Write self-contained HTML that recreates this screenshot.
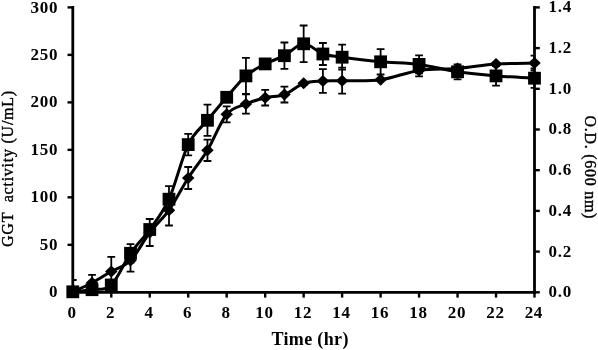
<!DOCTYPE html><html><head><meta charset="utf-8"><style>html,body{margin:0;padding:0;background:#fff;}svg{display:block;filter:grayscale(1) blur(0.35px);}text{font-family:"Liberation Serif",serif;}</style></head><body>
<svg width="598" height="350" viewBox="0 0 598 350">
<g stroke="#000" stroke-width="2.8" fill="none" stroke-linecap="butt">
<line x1="72.8" y1="6.00" x2="72.8" y2="293.70"/>
<line x1="534.5" y1="6.00" x2="534.5" y2="293.70"/>
<line x1="71.40" y1="292.3" x2="535.90" y2="292.3"/>
</g>
<g stroke="#000" stroke-width="2.4">
<line x1="67.50" y1="292.30" x2="72.8" y2="292.30"/>
<line x1="67.50" y1="244.82" x2="72.8" y2="244.82"/>
<line x1="67.50" y1="197.33" x2="72.8" y2="197.33"/>
<line x1="67.50" y1="149.85" x2="72.8" y2="149.85"/>
<line x1="67.50" y1="102.37" x2="72.8" y2="102.37"/>
<line x1="67.50" y1="54.88" x2="72.8" y2="54.88"/>
<line x1="67.50" y1="7.40" x2="72.8" y2="7.40"/>
<line x1="534.5" y1="292.30" x2="539.80" y2="292.30"/>
<line x1="534.5" y1="251.60" x2="539.80" y2="251.60"/>
<line x1="534.5" y1="210.90" x2="539.80" y2="210.90"/>
<line x1="534.5" y1="170.20" x2="539.80" y2="170.20"/>
<line x1="534.5" y1="129.50" x2="539.80" y2="129.50"/>
<line x1="534.5" y1="88.80" x2="539.80" y2="88.80"/>
<line x1="534.5" y1="48.10" x2="539.80" y2="48.10"/>
<line x1="534.5" y1="7.40" x2="539.80" y2="7.40"/>
<line x1="72.80" y1="292.3" x2="72.80" y2="297.60"/>
<line x1="111.28" y1="292.3" x2="111.28" y2="297.60"/>
<line x1="149.75" y1="292.3" x2="149.75" y2="297.60"/>
<line x1="188.22" y1="292.3" x2="188.22" y2="297.60"/>
<line x1="226.70" y1="292.3" x2="226.70" y2="297.60"/>
<line x1="265.18" y1="292.3" x2="265.18" y2="297.60"/>
<line x1="303.65" y1="292.3" x2="303.65" y2="297.60"/>
<line x1="342.12" y1="292.3" x2="342.12" y2="297.60"/>
<line x1="380.60" y1="292.3" x2="380.60" y2="297.60"/>
<line x1="419.08" y1="292.3" x2="419.08" y2="297.60"/>
<line x1="457.55" y1="292.3" x2="457.55" y2="297.60"/>
<line x1="496.02" y1="292.3" x2="496.02" y2="297.60"/>
<line x1="534.50" y1="292.3" x2="534.50" y2="297.60"/>
</g>
<g font-weight="bold" font-size="17" fill="#000">
<text x="57.4" y="297.40" text-anchor="end" textLength="8.50" lengthAdjust="spacing">0</text>
<text x="57.4" y="249.92" text-anchor="end" textLength="17.72" lengthAdjust="spacing">50</text>
<text x="57.4" y="202.43" text-anchor="end" textLength="26.94" lengthAdjust="spacing">100</text>
<text x="57.4" y="154.95" text-anchor="end" textLength="26.94" lengthAdjust="spacing">150</text>
<text x="57.4" y="107.47" text-anchor="end" textLength="26.94" lengthAdjust="spacing">200</text>
<text x="57.4" y="59.98" text-anchor="end" textLength="26.94" lengthAdjust="spacing">250</text>
<text x="57.4" y="12.50" text-anchor="end" textLength="26.94" lengthAdjust="spacing">300</text>
<text x="548.6" y="297.20" textLength="22.69" lengthAdjust="spacing">0.0</text>
<text x="548.6" y="256.50" textLength="22.69" lengthAdjust="spacing">0.2</text>
<text x="548.6" y="215.80" textLength="22.69" lengthAdjust="spacing">0.4</text>
<text x="548.6" y="175.10" textLength="22.69" lengthAdjust="spacing">0.6</text>
<text x="548.6" y="134.40" textLength="22.69" lengthAdjust="spacing">0.8</text>
<text x="548.6" y="93.70" textLength="22.69" lengthAdjust="spacing">1.0</text>
<text x="548.6" y="53.00" textLength="22.69" lengthAdjust="spacing">1.2</text>
<text x="548.6" y="12.30" textLength="22.69" lengthAdjust="spacing">1.4</text>
<text x="71.80" y="317.8" text-anchor="middle" textLength="8.50" lengthAdjust="spacing">0</text>
<text x="110.28" y="317.8" text-anchor="middle" textLength="8.50" lengthAdjust="spacing">2</text>
<text x="148.75" y="317.8" text-anchor="middle" textLength="8.50" lengthAdjust="spacing">4</text>
<text x="187.22" y="317.8" text-anchor="middle" textLength="8.50" lengthAdjust="spacing">6</text>
<text x="225.70" y="317.8" text-anchor="middle" textLength="8.50" lengthAdjust="spacing">8</text>
<text x="264.18" y="317.8" text-anchor="middle" textLength="17.72" lengthAdjust="spacing">10</text>
<text x="302.65" y="317.8" text-anchor="middle" textLength="17.72" lengthAdjust="spacing">12</text>
<text x="341.12" y="317.8" text-anchor="middle" textLength="17.72" lengthAdjust="spacing">14</text>
<text x="379.60" y="317.8" text-anchor="middle" textLength="17.72" lengthAdjust="spacing">16</text>
<text x="418.08" y="317.8" text-anchor="middle" textLength="17.72" lengthAdjust="spacing">18</text>
<text x="456.55" y="317.8" text-anchor="middle" textLength="17.72" lengthAdjust="spacing">20</text>
<text x="495.02" y="317.8" text-anchor="middle" textLength="17.72" lengthAdjust="spacing">22</text>
<text x="533.50" y="317.8" text-anchor="middle" textLength="17.72" lengthAdjust="spacing">24</text>
<text x="309.9" y="344.7" text-anchor="middle" font-size="18" textLength="77.00" lengthAdjust="spacing">Time (hr)</text>
</g>
<text transform="translate(13.1,168.9) rotate(-90)" text-anchor="middle" font-size="16" fill="#000" stroke="#000" stroke-width="0.4" textLength="156.13" lengthAdjust="spacing">GGT&#160; activity (U/mL)</text>
<text transform="translate(585.1,167) rotate(90)" text-anchor="middle" font-size="16" fill="#000" stroke="#000" stroke-width="0.4" textLength="102.85" lengthAdjust="spacing">O.D. (600 nm)</text>
<defs><clipPath id="pc"><rect x="72.8" y="6.4" width="461.7" height="285.90000000000003"/></clipPath></defs>
<g stroke="#000" stroke-width="1.8" clip-path="url(#pc)">
<line x1="72.80" y1="280.00" x2="72.80" y2="292.30"/>
<line x1="68.90" y1="280.00" x2="76.70" y2="280.00"/>
<line x1="92.04" y1="274.80" x2="92.04" y2="290.80"/>
<line x1="88.14" y1="274.80" x2="95.94" y2="274.80"/>
<line x1="88.14" y1="290.80" x2="95.94" y2="290.80"/>
<line x1="111.28" y1="256.90" x2="111.28" y2="285.90"/>
<line x1="107.38" y1="256.90" x2="115.18" y2="256.90"/>
<line x1="107.38" y1="285.90" x2="115.18" y2="285.90"/>
<line x1="130.51" y1="244.10" x2="130.51" y2="262.50"/>
<line x1="126.61" y1="244.10" x2="134.41" y2="244.10"/>
<line x1="126.61" y1="262.50" x2="134.41" y2="262.50"/>
<line x1="130.51" y1="249.30" x2="130.51" y2="271.70"/>
<line x1="126.61" y1="249.30" x2="134.41" y2="249.30"/>
<line x1="126.61" y1="271.70" x2="134.41" y2="271.70"/>
<line x1="149.75" y1="219.00" x2="149.75" y2="246.00"/>
<line x1="145.85" y1="219.00" x2="153.65" y2="219.00"/>
<line x1="145.85" y1="246.00" x2="153.65" y2="246.00"/>
<line x1="168.99" y1="186.20" x2="168.99" y2="212.20"/>
<line x1="165.09" y1="186.20" x2="172.89" y2="186.20"/>
<line x1="165.09" y1="212.20" x2="172.89" y2="212.20"/>
<line x1="168.99" y1="194.90" x2="168.99" y2="225.50"/>
<line x1="165.09" y1="194.90" x2="172.89" y2="194.90"/>
<line x1="165.09" y1="225.50" x2="172.89" y2="225.50"/>
<line x1="188.22" y1="133.90" x2="188.22" y2="155.30"/>
<line x1="184.32" y1="133.90" x2="192.12" y2="133.90"/>
<line x1="184.32" y1="155.30" x2="192.12" y2="155.30"/>
<line x1="188.22" y1="167.00" x2="188.22" y2="189.00"/>
<line x1="184.32" y1="167.00" x2="192.12" y2="167.00"/>
<line x1="184.32" y1="189.00" x2="192.12" y2="189.00"/>
<line x1="207.46" y1="104.70" x2="207.46" y2="135.90"/>
<line x1="203.56" y1="104.70" x2="211.36" y2="104.70"/>
<line x1="203.56" y1="135.90" x2="211.36" y2="135.90"/>
<line x1="207.46" y1="139.60" x2="207.46" y2="161.00"/>
<line x1="203.56" y1="139.60" x2="211.36" y2="139.60"/>
<line x1="203.56" y1="161.00" x2="211.36" y2="161.00"/>
<line x1="226.70" y1="106.30" x2="226.70" y2="122.30"/>
<line x1="222.80" y1="106.30" x2="230.60" y2="106.30"/>
<line x1="222.80" y1="122.30" x2="230.60" y2="122.30"/>
<line x1="245.94" y1="57.90" x2="245.94" y2="93.90"/>
<line x1="242.04" y1="57.90" x2="249.84" y2="57.90"/>
<line x1="242.04" y1="93.90" x2="249.84" y2="93.90"/>
<line x1="245.94" y1="94.30" x2="245.94" y2="113.70"/>
<line x1="242.04" y1="94.30" x2="249.84" y2="94.30"/>
<line x1="242.04" y1="113.70" x2="249.84" y2="113.70"/>
<line x1="265.18" y1="89.90" x2="265.18" y2="105.50"/>
<line x1="261.28" y1="89.90" x2="269.07" y2="89.90"/>
<line x1="261.28" y1="105.50" x2="269.07" y2="105.50"/>
<line x1="284.41" y1="42.50" x2="284.41" y2="68.90"/>
<line x1="280.51" y1="42.50" x2="288.31" y2="42.50"/>
<line x1="280.51" y1="68.90" x2="288.31" y2="68.90"/>
<line x1="284.41" y1="86.70" x2="284.41" y2="102.50"/>
<line x1="280.51" y1="86.70" x2="288.31" y2="86.70"/>
<line x1="280.51" y1="102.50" x2="288.31" y2="102.50"/>
<line x1="303.65" y1="25.50" x2="303.65" y2="62.10"/>
<line x1="299.75" y1="25.50" x2="307.55" y2="25.50"/>
<line x1="299.75" y1="62.10" x2="307.55" y2="62.10"/>
<line x1="322.89" y1="43.00" x2="322.89" y2="65.00"/>
<line x1="318.99" y1="43.00" x2="326.79" y2="43.00"/>
<line x1="318.99" y1="65.00" x2="326.79" y2="65.00"/>
<line x1="322.89" y1="69.20" x2="322.89" y2="92.80"/>
<line x1="318.99" y1="69.20" x2="326.79" y2="69.20"/>
<line x1="318.99" y1="92.80" x2="326.79" y2="92.80"/>
<line x1="342.12" y1="44.70" x2="342.12" y2="69.70"/>
<line x1="338.23" y1="44.70" x2="346.02" y2="44.70"/>
<line x1="338.23" y1="69.70" x2="346.02" y2="69.70"/>
<line x1="342.12" y1="67.70" x2="342.12" y2="93.70"/>
<line x1="338.23" y1="67.70" x2="346.02" y2="67.70"/>
<line x1="338.23" y1="93.70" x2="346.02" y2="93.70"/>
<line x1="380.60" y1="49.10" x2="380.60" y2="74.50"/>
<line x1="376.70" y1="49.10" x2="384.50" y2="49.10"/>
<line x1="376.70" y1="74.50" x2="384.50" y2="74.50"/>
<line x1="419.08" y1="55.40" x2="419.08" y2="73.40"/>
<line x1="415.18" y1="55.40" x2="422.98" y2="55.40"/>
<line x1="415.18" y1="73.40" x2="422.98" y2="73.40"/>
<line x1="419.08" y1="64.40" x2="419.08" y2="76.40"/>
<line x1="415.18" y1="64.40" x2="422.98" y2="64.40"/>
<line x1="415.18" y1="76.40" x2="422.98" y2="76.40"/>
<line x1="457.55" y1="64.30" x2="457.55" y2="79.30"/>
<line x1="453.65" y1="64.30" x2="461.45" y2="64.30"/>
<line x1="453.65" y1="79.30" x2="461.45" y2="79.30"/>
<line x1="496.02" y1="66.10" x2="496.02" y2="85.70"/>
<line x1="492.12" y1="66.10" x2="499.92" y2="66.10"/>
<line x1="492.12" y1="85.70" x2="499.92" y2="85.70"/>
<line x1="534.50" y1="68.50" x2="534.50" y2="87.90"/>
<line x1="530.60" y1="68.50" x2="538.40" y2="68.50"/>
<line x1="530.60" y1="87.90" x2="538.40" y2="87.90"/>
<line x1="534.50" y1="55.70" x2="534.50" y2="70.50"/>
<line x1="530.60" y1="55.70" x2="538.40" y2="55.70"/>
<line x1="530.60" y1="70.50" x2="538.40" y2="70.50"/>
</g>
<path d="M72.80 292.00C76.01 290.47 85.62 286.23 92.04 282.80C98.45 279.37 104.86 275.12 111.28 271.40C117.69 267.68 124.10 266.98 130.51 260.50C136.92 254.02 143.34 240.88 149.75 232.50C156.16 224.12 162.58 219.28 168.99 210.20C175.40 201.12 181.81 187.98 188.22 178.00C194.64 168.02 201.05 160.92 207.46 150.30C213.87 139.68 220.29 122.02 226.70 114.30C233.11 106.58 239.53 106.77 245.94 104.00C252.35 101.23 258.76 99.27 265.18 97.70C271.59 96.13 278.00 97.00 284.41 94.60C290.82 92.20 297.24 85.57 303.65 83.30C310.06 81.03 316.47 81.43 322.89 81.00C329.30 80.57 332.51 80.90 342.12 80.70C351.74 80.50 367.78 81.52 380.60 79.80C393.43 78.08 406.25 72.28 419.08 70.40C431.90 68.52 444.73 69.57 457.55 68.50C470.38 67.43 483.20 64.90 496.02 64.00C508.85 63.10 528.09 63.25 534.50 63.10" fill="none" stroke="#000" stroke-width="3.0" stroke-linejoin="round"/>
<path d="M72.80 291.80C76.01 291.45 85.62 290.83 92.04 289.70C98.45 288.57 104.86 291.07 111.28 285.00C117.69 278.93 124.10 262.55 130.51 253.30C136.92 244.05 143.34 238.52 149.75 229.50C156.16 220.48 162.58 213.35 168.99 199.20C175.40 185.05 181.81 157.75 188.22 144.60C194.64 131.45 201.05 128.18 207.46 120.30C213.87 112.42 220.29 104.70 226.70 97.30C233.11 89.90 239.53 81.47 245.94 75.90C252.35 70.33 258.76 67.27 265.18 63.90C271.59 60.53 278.00 59.05 284.41 55.70C290.82 52.35 297.24 44.08 303.65 43.80C310.06 43.52 316.47 51.77 322.89 54.00C329.30 56.23 332.51 55.90 342.12 57.20C351.74 58.50 367.78 60.60 380.60 61.80C393.43 63.00 406.25 62.73 419.08 64.40C431.90 66.07 444.73 69.88 457.55 71.80C470.38 73.72 483.20 74.83 496.02 75.90C508.85 76.97 528.09 77.82 534.50 78.20" fill="none" stroke="#000" stroke-width="3.0" stroke-linejoin="round"/>
<g fill="#000">
<path d="M72.80 286.00L79.05 292.00L72.80 298.00L66.55 292.00Z"/>
<path d="M92.04 276.80L98.29 282.80L92.04 288.80L85.79 282.80Z"/>
<path d="M111.28 265.40L117.53 271.40L111.28 277.40L105.03 271.40Z"/>
<path d="M130.51 254.50L136.76 260.50L130.51 266.50L124.26 260.50Z"/>
<path d="M149.75 226.50L156.00 232.50L149.75 238.50L143.50 232.50Z"/>
<path d="M168.99 204.20L175.24 210.20L168.99 216.20L162.74 210.20Z"/>
<path d="M188.22 172.00L194.47 178.00L188.22 184.00L181.97 178.00Z"/>
<path d="M207.46 144.30L213.71 150.30L207.46 156.30L201.21 150.30Z"/>
<path d="M226.70 108.30L232.95 114.30L226.70 120.30L220.45 114.30Z"/>
<path d="M245.94 98.00L252.19 104.00L245.94 110.00L239.69 104.00Z"/>
<path d="M265.18 91.70L271.43 97.70L265.18 103.70L258.93 97.70Z"/>
<path d="M284.41 88.60L290.66 94.60L284.41 100.60L278.16 94.60Z"/>
<path d="M303.65 77.30L309.90 83.30L303.65 89.30L297.40 83.30Z"/>
<path d="M322.89 75.00L329.14 81.00L322.89 87.00L316.64 81.00Z"/>
<path d="M342.12 74.70L348.38 80.70L342.12 86.70L335.88 80.70Z"/>
<path d="M380.60 73.80L386.85 79.80L380.60 85.80L374.35 79.80Z"/>
<path d="M419.08 64.40L425.33 70.40L419.08 76.40L412.83 70.40Z"/>
<path d="M457.55 62.50L463.80 68.50L457.55 74.50L451.30 68.50Z"/>
<path d="M496.02 58.00L502.27 64.00L496.02 70.00L489.77 64.00Z"/>
<path d="M534.50 57.10L540.75 63.10L534.50 69.10L528.25 63.10Z"/>
<rect x="66.40" y="285.40" width="12.8" height="12.8"/>
<rect x="85.64" y="283.30" width="12.8" height="12.8"/>
<rect x="104.88" y="278.60" width="12.8" height="12.8"/>
<rect x="124.11" y="246.90" width="12.8" height="12.8"/>
<rect x="143.35" y="223.10" width="12.8" height="12.8"/>
<rect x="162.59" y="192.80" width="12.8" height="12.8"/>
<rect x="181.82" y="138.20" width="12.8" height="12.8"/>
<rect x="201.06" y="113.90" width="12.8" height="12.8"/>
<rect x="220.30" y="90.90" width="12.8" height="12.8"/>
<rect x="239.54" y="69.50" width="12.8" height="12.8"/>
<rect x="258.78" y="57.50" width="12.8" height="12.8"/>
<rect x="278.01" y="49.30" width="12.8" height="12.8"/>
<rect x="297.25" y="37.40" width="12.8" height="12.8"/>
<rect x="316.49" y="47.60" width="12.8" height="12.8"/>
<rect x="335.73" y="50.80" width="12.8" height="12.8"/>
<rect x="374.20" y="55.40" width="12.8" height="12.8"/>
<rect x="412.68" y="58.00" width="12.8" height="12.8"/>
<rect x="451.15" y="65.40" width="12.8" height="12.8"/>
<rect x="489.62" y="69.50" width="12.8" height="12.8"/>
<rect x="528.10" y="71.80" width="12.8" height="12.8"/>
</g>
</svg></body></html>
